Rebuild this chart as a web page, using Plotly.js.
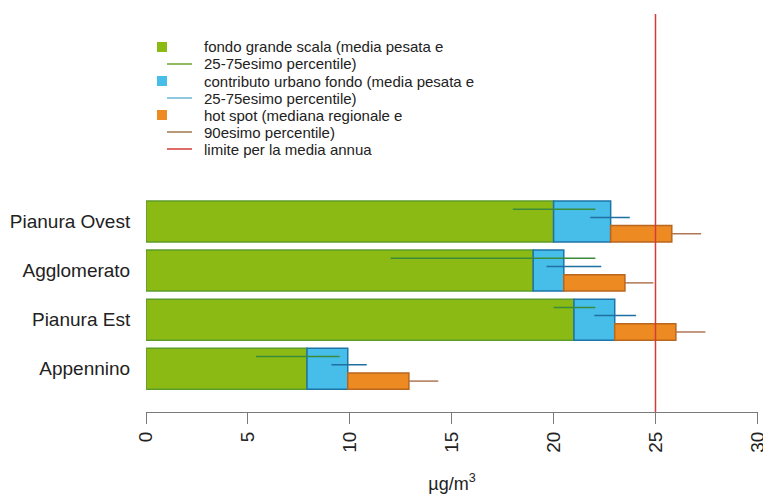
<!DOCTYPE html>
<html>
<head>
<meta charset="utf-8">
<script src="https://cdn.plot.ly/plotly-3.0.1.min.js"></script>
<style>html,body{margin:0;padding:0;background:#fff;}#chart{width:763px;height:494px;}</style>
</head>
<body>
<div id="chart"></div>
<script>
// ---- data (bottom to top, as drawn) ----
const categories = ["Appennino", "Pianura Est", "Agglomerato", "Pianura Ovest"];
const fondo      = [7.9, 21.0, 19.0, 20.0];   // fondo grande scala
const urbano     = [2.0, 2.0, 1.5, 2.8];      // contributo urbano fondo
const hotspot    = [3.0, 3.0, 3.0, 3.0];      // hot spot
const fondoLo    = [5.4, 20.0, 12.0, 18.0];   // 25-75esimo percentile fondo
const fondoHi    = [9.5, 22.05, 22.05, 22.05];
const urbanoLo   = [9.1, 22.0, 19.65, 21.8];  // 25-75esimo percentile urbano
const urbanoHi   = [10.83, 24.05, 22.34, 23.74];
const hotHi      = [14.34, 27.45, 24.9, 27.24]; // 90esimo percentile hot spot
const limite     = 25;
const xTicks     = [0, 5, 10, 15, 20, 25, 30];
const legendLabels = [
  "fondo grande scala (media pesata e",
  "25-75esimo percentile)",
  "contributo urbano fondo (media pesata e",
  "25-75esimo percentile)",
  "hot spot (mediana regionale e",
  "90esimo percentile)",
  "limite per la media annua"
];

// ---- styling ----
const FONT = "Liberation Sans, Arial, Helvetica, sans-serif";
const C = {
  green: "#8cba15", greenLine: "#5e9c2a", greenErr: "#3b8c3a", greenKeyLine: "#6aa52c",
  blue: "#47bde9", blueLine: "#1d74a8", blueErr: "#1f6fa2", blueKeyLine: "#6ab4d4",
  orange: "#ee8a22", orangeLine: "#b9661f", orangeErr: "#b07755", orangeKeyLine: "#a0784c",
  red: "#d63a3a"
};

// bar positions (R barplot style: width 1, space 0.2)
const pos = categories.map((_, i) => 0.7 + 1.2 * i);
const urbanBase = fondo.map((v, i) => v + urbano[i]);
const hotBase = urbanBase;

function segs(lo, hi, off) {
  const xs = [], ys = [];
  lo.forEach((l, i) => { xs.push(l, hi[i], null); ys.push(pos[i] + off, pos[i] + off, null); });
  return {x: xs, y: ys};
}

const traces = [
  {type: "bar", orientation: "h", y: pos, x: fondo, base: pos.map(() => 0), width: pos.map(() => 1),
   marker: {color: C.green, line: {color: C.greenLine, width: 1.5}}, showlegend: false, hoverinfo: "skip"},
  {type: "bar", orientation: "h", y: pos, x: urbano, base: fondo, width: pos.map(() => 1),
   marker: {color: C.blue, line: {color: C.blueLine, width: 1.5}}, showlegend: false, hoverinfo: "skip"},
  {type: "bar", orientation: "h", y: pos.map(p => p - 0.3), x: hotspot, base: hotBase, width: pos.map(() => 0.4),
   marker: {color: C.orange, line: {color: C.orangeLine, width: 1.5}}, showlegend: false, hoverinfo: "skip"},
];
const gS = segs(fondoLo, fondoHi, 0.3);
const bS = segs(urbanoLo, urbanoHi, 0.1);
const oS = segs(urbanBase.map((v, i) => v + hotspot[i]), hotHi, -0.3);
traces.push({type: "scatter", mode: "lines", x: gS.x, y: gS.y, line: {color: C.greenErr, width: 1.5}, showlegend: false, hoverinfo: "skip", connectgaps: false});
traces.push({type: "scatter", mode: "lines", x: bS.x, y: bS.y, line: {color: C.blueErr, width: 1.5}, showlegend: false, hoverinfo: "skip", connectgaps: false});
traces.push({type: "scatter", mode: "lines", x: oS.x, y: oS.y, line: {color: C.orangeErr, width: 1.5}, showlegend: false, hoverinfo: "skip", connectgaps: false});

// ---- manual legend (R style) ----
const W = 763, H = 494, M = {l: 146, r: 5, t: 14, b: 82};
const pw = W - M.l - M.r, ph = H - M.t - M.b;
const px2x = p => (p - M.l) / pw;
const py2y = p => (H - M.b - p) / ph;
const keyTypes = ["sq", "ln", "sq", "ln", "sq", "ln", "ln"];
const keyColors = [C.green, C.greenKeyLine, C.blue, C.blueKeyLine, C.orange, C.orangeKeyLine, C.red];
const shapes = [];
const annotations = [];
legendLabels.forEach((lab, i) => {
  const cy = 47 + 17 * i;
  if (keyTypes[i] === "sq") {
    shapes.push({type: "rect", xref: "paper", yref: "paper",
      x0: px2x(157), x1: px2x(167), y0: py2y(cy + 5), y1: py2y(cy - 5),
      fillcolor: keyColors[i], line: {width: 0}});
  } else {
    shapes.push({type: "line", xref: "paper", yref: "paper",
      x0: px2x(167), x1: px2x(192), y0: py2y(cy), y1: py2y(cy),
      line: {color: keyColors[i], width: 1.5}});
  }
  annotations.push({xref: "paper", yref: "paper", x: px2x(202), y: py2y(cy),
    xanchor: "left", yanchor: "middle", showarrow: false, text: lab,
    font: {family: FONT, size: 15, color: "#222"}});
});
// limit line
shapes.push({type: "line", xref: "x", yref: "paper", x0: limite, x1: limite, y0: 0, y1: 1,
  line: {color: C.red, width: 1.5}, layer: "above"});

const layout = {
  width: W, height: H,
  margin: M,
  paper_bgcolor: "#fff", plot_bgcolor: "#fff",
  barmode: "overlay",
  showlegend: false,
  font: {family: FONT, color: "#222"},
  xaxis: {
    range: [0, 30.03], tickvals: xTicks, ticktext: xTicks.map(String), tickangle: -90,
    ticks: "outside", ticklen: 11, tickcolor: "#7a7a7a", tickwidth: 1,
    ticklabeloverflow: "allow",
    showline: true, linecolor: "#7a7a7a", linewidth: 1,
    showgrid: false, zeroline: false,
    tickfont: {family: FONT, size: 19, color: "#222"},
    title: {text: "µg/m<sup>3</sup>", font: {family: FONT, size: 18, color: "#222"}, standoff: 25}
  },
  yaxis: {
    range: [-0.355, 9.369], tickvals: pos, ticktext: categories,
    ticks: "outside", ticklen: 11, tickcolor: "rgba(0,0,0,0)",
    showline: false, showgrid: false, zeroline: false,
    tickfont: {family: FONT, size: 19, color: "#222"}
  },
  shapes: shapes,
  annotations: annotations
};

Plotly.newPlot("chart", traces, layout, {displayModeBar: false, staticPlot: true});
</script>
</body>
</html>
